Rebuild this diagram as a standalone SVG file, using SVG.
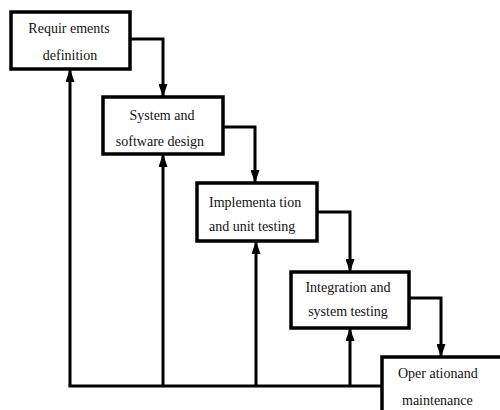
<svg xmlns="http://www.w3.org/2000/svg" width="500" height="410" viewBox="0 0 500 410">
<defs>
<marker id="ah" markerUnits="userSpaceOnUse" markerWidth="13" markerHeight="9" viewBox="0 0 13 9" refX="13" refY="4.5" orient="auto">
<path d="M0,0 L13,4.5 L0,9 Z" fill="#000"/>
</marker>
<style>
.box{fill:#fff;stroke:#000;stroke-width:3.5}
.ln{fill:none;stroke:#000;stroke-width:3}
text{font-family:"Liberation Serif","Times New Roman",serif;font-size:14px;fill:#111}
</style>
</defs>
<rect width="500" height="410" fill="#fff"/>
<g id="connectors">
<path class="ln" d="M130,39 H163 V97" marker-end="url(#ah)"/>
<path class="ln" d="M223,127 H255 V183" marker-end="url(#ah)"/>
<path class="ln" d="M317,212 H350 V272" marker-end="url(#ah)"/>
<path class="ln" d="M409,298 H441 V357" marker-end="url(#ah)"/>
<path class="ln" d="M68.5,386 H382"/>
<path class="ln" d="M70,386 V69" marker-end="url(#ah)"/>
<path class="ln" d="M163,386 V154" marker-end="url(#ah)"/>
<path class="ln" d="M256,386 V241" marker-end="url(#ah)"/>
<path class="ln" d="M350,386 V328" marker-end="url(#ah)"/>
</g>
<g id="n1">
<rect class="box" x="11" y="12" width="119" height="57"/>
<text x="69" y="33" text-anchor="middle">Requir ements</text>
<text x="70" y="60" text-anchor="middle">definition</text>
</g>
<g id="n2">
<rect class="box" x="103" y="97" width="120" height="57"/>
<text x="162" y="120" text-anchor="middle">System and</text>
<text x="160" y="146" text-anchor="middle">software design</text>
</g>
<g id="n3">
<rect class="box" x="197" y="183" width="120" height="58"/>
<text x="209" y="207">Implementa tion</text>
<text x="209" y="231">and unit testing</text>
</g>
<g id="n4">
<rect class="box" x="291" y="272" width="118" height="56"/>
<text x="348" y="292" text-anchor="middle">Integration and</text>
<text x="348" y="316" text-anchor="middle">system testing</text>
</g>
<g id="n5">
<rect class="box" x="382" y="357" width="125" height="60"/>
<text x="398" y="378">Oper ationand</text>
<text x="402" y="405">maintenance</text>
</g>
</svg>
